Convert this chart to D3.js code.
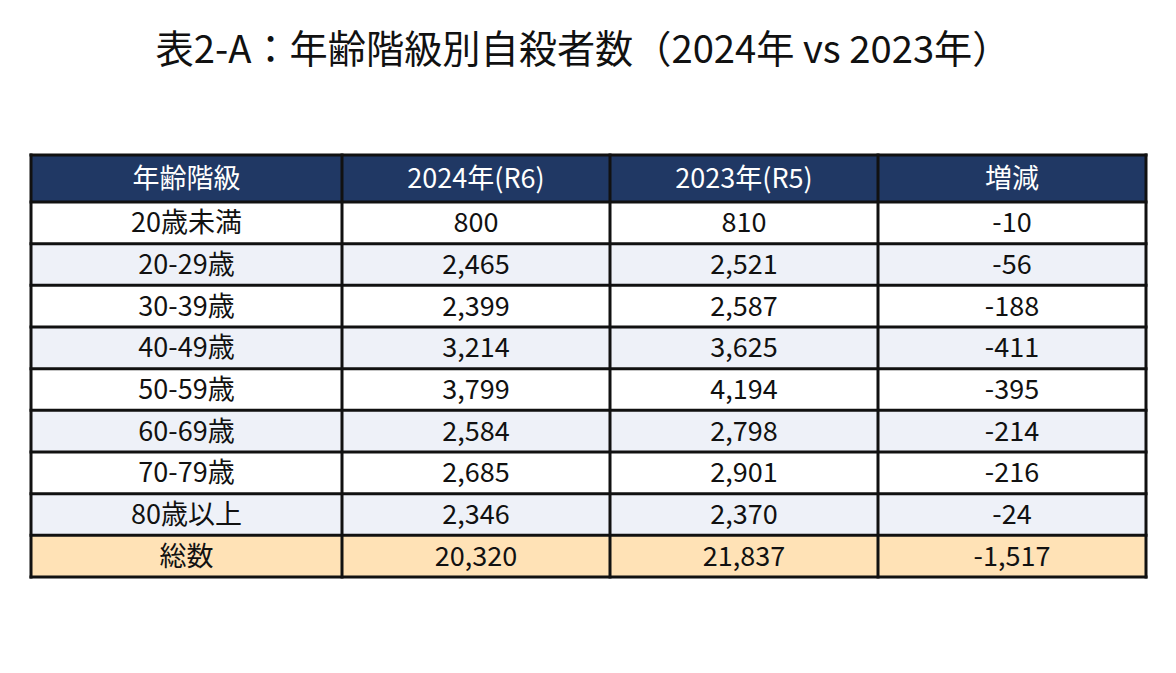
<!DOCTYPE html>
<html>
<head>
<meta charset="utf-8">
<script src="https://cdn.jsdelivr.net/npm/d3@7"></script>
<style>
  body { margin: 0; background: #fff; }
  text { font-family: "Noto Sans CJK JP", "Noto Sans", sans-serif; }
</style>
</head>
<body>
<div id="chart"></div>
<script>
// data
const headers = ["年齢階級", "2024年(R6)", "2023年(R5)", "増減"];
const ageGroups = ["20歳未満", "20-29歳", "30-39歳", "40-49歳", "50-59歳", "60-69歳", "70-79歳", "80歳以上", "総数"];
const values2024 = [800, 2465, 2399, 3214, 3799, 2584, 2685, 2346, 20320];
const values2023 = [810, 2521, 2587, 3625, 4194, 2798, 2901, 2370, 21837];
const changes = [-10, -56, -188, -411, -395, -214, -216, -24, -1517];

const width = 1176, height = 673;
const tLeft = 31, tRight = 1146, tTop = 155, headH = 47, tBottom = 577;
const firstColW = 311;

const svg = d3.select("#chart").append("svg")
  .attr("width", width).attr("height", height);

// title
svg.append("text")
  .attr("x", 583).attr("y", 46)
  .attr("text-anchor", "middle")
  .attr("dominant-baseline", "central")
  .attr("font-size", 38.2)
  .attr("fill", "#111")
  .text("表2-A：年齢階級別自殺者数（2024年 vs 2023年）");

// columns: first is wider, other three share the rest
const restW = (tRight - tLeft - firstColW) / 3;
const colX = [tLeft, tLeft + firstColW, tLeft + firstColW + restW, tLeft + firstColW + 2 * restW, tRight];

const y = d3.scaleBand()
  .domain(d3.range(ageGroups.length))
  .range([tTop + headH, tBottom]);

// plain hyphen for negatives, like the source
const fmt = v => d3.format(",")(v).replace("\u2212", "-");
const rows = ageGroups.map((g, i) => [g, fmt(values2024[i]), fmt(values2023[i]), fmt(changes[i])]);

const rowFill = i => i === ageGroups.length - 1 ? "#ffe2b6" : (i % 2 === 1 ? "#eef1f8" : "#ffffff");

// header
const head = svg.append("g");
head.selectAll("rect").data(headers).join("rect")
  .attr("x", (d, j) => colX[j]).attr("y", tTop)
  .attr("width", (d, j) => colX[j + 1] - colX[j]).attr("height", headH)
  .attr("fill", "#203864");
head.selectAll("text").data(headers).join("text")
  .attr("x", (d, j) => (colX[j] + colX[j + 1]) / 2)
  .attr("y", tTop + headH / 2 - 2)
  .attr("text-anchor", "middle").attr("dominant-baseline", "central")
  .attr("font-size", 27).attr("fill", "#fff")
  .text(d => d);

// body rows
const body = svg.append("g");
const row = body.selectAll("g").data(rows).join("g");
row.append("rect")
  .attr("x", tLeft).attr("y", (d, i) => y(i))
  .attr("width", tRight - tLeft).attr("height", y.bandwidth())
  .attr("fill", (d, i) => rowFill(i));
row.each(function(d, i) {
  d3.select(this).selectAll("text").data(d).join("text")
    .attr("x", (v, j) => (colX[j] + colX[j + 1]) / 2)
    .attr("y", y(i) + y.bandwidth() / 2 - 2)
    .attr("text-anchor", "middle").attr("dominant-baseline", "central")
    .attr("font-size", 27).attr("fill", "#111")
    .text(v => v);
});

// grid lines
const grid = svg.append("g").attr("stroke", "#111").attr("stroke-width", 3)
  .attr("stroke-linecap", "square");
const hy = [tTop, tTop + headH].concat(d3.range(ageGroups.length).map(i => y(i) + y.bandwidth()));
grid.selectAll("line.h").data(hy).join("line").attr("class", "h")
  .attr("x1", tLeft).attr("x2", tRight).attr("y1", d => d).attr("y2", d => d);
grid.selectAll("line.v").data(colX).join("line").attr("class", "v")
  .attr("x1", d => d).attr("x2", d => d).attr("y1", tTop).attr("y2", tBottom);
</script>
</body>
</html>
